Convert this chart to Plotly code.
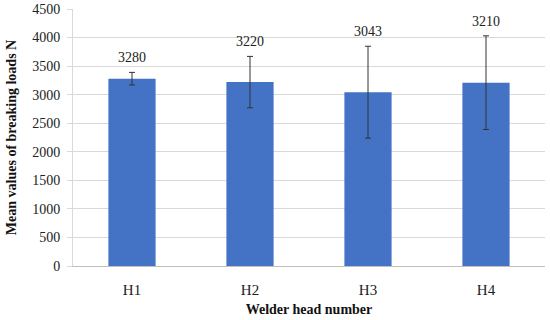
import plotly.graph_objects as go

categories = ["H1", "H2", "H3", "H4"]
means = [3280, 3220, 3043, 3210]
errors = [110, 450, 805, 820]
y_ticks = [0, 500, 1000, 1500, 2000, 2500, 3000, 3500, 4000, 4500]

font_family = "Liberation Serif, Times New Roman, serif"

fig = go.Figure()
fig.add_trace(go.Bar(
    x=categories, y=means,
    marker=dict(color="#4472C4", line=dict(width=0)),
    error_y=dict(type="data", array=errors, visible=True,
                 color="#333333", thickness=1, width=3),
    width=0.4,
))

for c, m, e in zip(categories, means, errors):
    fig.add_annotation(x=c, y=m + e, text=str(m), showarrow=False,
                       yanchor="bottom", yshift=5,
                       font=dict(family=font_family, size=14, color="#222222"))

fig.update_layout(
    width=550, height=320,
    margin=dict(l=73, r=5, t=9, b=54),
    paper_bgcolor="white", plot_bgcolor="white",
    showlegend=False,
    font=dict(family=font_family, size=14, color="#222222"),
    xaxis=dict(
        automargin=False,
        showline=True, linecolor="#bfbfbf", linewidth=1,
        ticks="", ticklabelstandoff=10,
        tickfont=dict(family=font_family, size=15, color="#222222"),
        title=dict(text="<b>Welder head number</b>", standoff=7,
                   font=dict(family=font_family, size=14, color="#111111")),
    ),
    yaxis=dict(
        automargin=False,
        range=[0, 4500], tickvals=y_ticks,
        showgrid=True, gridcolor="#d9d9d9", gridwidth=1,
        showline=True, linecolor="#d9d9d9", linewidth=1,
        ticks="outside", ticklen=5, tickcolor="#d9d9d9",
        ticklabelstandoff=4,
        zeroline=False,
        title=dict(text="<b>Mean values of breaking loads N</b>", standoff=12,
                   font=dict(family=font_family, size=14, color="#111111")),
    ),
)

fig.write_html("out.html",
               config={"displayModeBar": False},
               post_script="document.body.style.margin='0';document.body.style.overflow='hidden';")
